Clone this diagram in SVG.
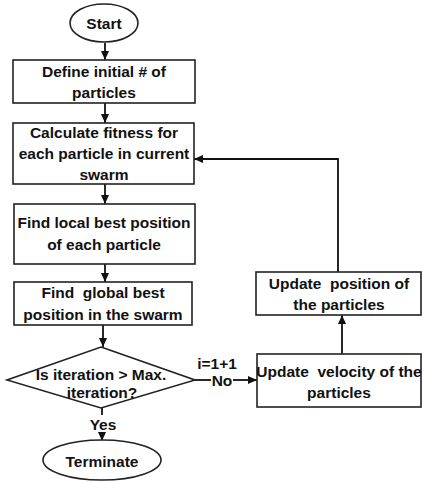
<svg xmlns="http://www.w3.org/2000/svg" width="422" height="482" viewBox="0 0 422 482">
<defs>
<style>
.s{fill:#fff;stroke:#222;stroke-width:1.6}
.t{font-family:"Liberation Sans",Arial,sans-serif;font-weight:bold;font-size:15.5px;fill:#111;text-anchor:middle}
.c{fill:none;stroke:#111;stroke-width:1.8}
</style>
<marker id="ah" markerUnits="userSpaceOnUse" markerWidth="10" markerHeight="10" refX="9" refY="5" orient="auto">
<path d="M0,1 L9,5 L0,9 Z" fill="#111"/>
</marker>
</defs>
<rect width="422" height="482" fill="#fff"/>
<g id="connectors">
<path class="c" d="M105 43 L105 60" marker-end="url(#ah)"/>
<path class="c" d="M105 103 L105 123" marker-end="url(#ah)"/>
<path class="c" d="M105 184 L105 204" marker-end="url(#ah)"/>
<path class="c" d="M105 264 L105 282" marker-end="url(#ah)"/>
<path class="c" d="M103 325 L103 347" marker-end="url(#ah)"/>
<path class="c" d="M102 408 L102 415"/>
<path class="c" d="M102 433 L102 441" marker-end="url(#ah)"/>
<path class="c" d="M195 380 L211 380"/>
<path class="c" d="M233 380 L257 380" marker-end="url(#ah)"/>
<path class="c" d="M342 354 L342 315" marker-end="url(#ah)"/>
<path class="c" d="M338 272 L338 159 L194 159" marker-end="url(#ah)"/>
<text class="t" x="217" y="369">i=1+1</text>
<text class="t" x="222" y="386">No</text>
<text class="t" x="103" y="430">Yes</text>
</g>
<g id="start">
<ellipse class="s" cx="104" cy="23" rx="34" ry="19"/>
<text class="t" x="104" y="29">Start</text>
</g>
<g id="define">
<rect class="s" x="13" y="60" width="182" height="43"/>
<text class="t" x="104" y="77">Define initial # of</text>
<text class="t" x="104" y="98">particles</text>
</g>
<g id="fitness">
<rect class="s" x="13" y="123" width="181" height="61"/>
<text class="t" x="104" y="138">Calculate fitness for</text>
<text class="t" x="104" y="159">each particle in current</text>
<text class="t" x="104" y="180">swarm</text>
</g>
<g id="localbest">
<rect class="s" x="14" y="204" width="181" height="60"/>
<text class="t" x="104" y="228">Find local best position</text>
<text class="t" x="104" y="250">of each particle</text>
</g>
<g id="globalbest">
<rect class="s" x="14" y="282" width="178" height="43"/>
<text class="t" x="103" y="298" xml:space="preserve">Find  global best</text>
<text class="t" x="103" y="320">position in the swarm</text>
</g>
<g id="decision">
<polygon class="s" points="101,347 195,380 101,408 7,380"/>
<text class="t" x="101" y="380">Is iteration &gt; Max.</text>
<text class="t" x="102" y="398">iteration?</text>
</g>
<g id="terminate">
<ellipse class="s" cx="102" cy="460" rx="59" ry="20"/>
<text class="t" x="102" y="467">Terminate</text>
</g>
<g id="velocity">
<rect class="s" x="257" y="354" width="164" height="53"/>
<text class="t" x="339" y="377" xml:space="preserve">Update  velocity of the</text>
<text class="t" x="339" y="398">particles</text>
</g>
<g id="position">
<rect class="s" x="256" y="272" width="165" height="43"/>
<text class="t" x="339" y="289" xml:space="preserve">Update  position of</text>
<text class="t" x="339" y="310">the particles</text>
</g>
</svg>
